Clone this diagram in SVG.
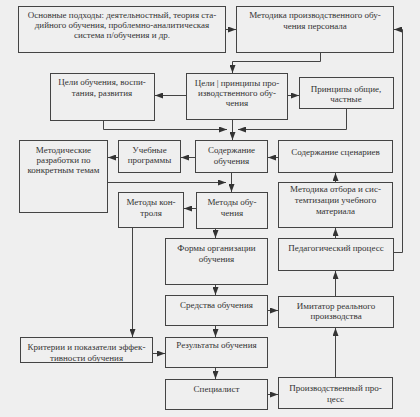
<svg xmlns="http://www.w3.org/2000/svg" width="420" height="417" viewBox="0 0 420 417">
<defs>
<marker id="ah" viewBox="0 0 8 6" refX="8" refY="3" markerWidth="8" markerHeight="6" markerUnits="userSpaceOnUse" orient="auto">
<path d="M0,0 L8,3 L0,6 Z" fill="#333"/>
</marker>
<style>
.b{fill:#efefef;stroke:#444;stroke-width:1}
.t{font-family:"Liberation Serif","Times New Roman",serif;font-size:9px;fill:#333;text-anchor:middle}
.c{fill:none;stroke:#444;stroke-width:1;marker-end:url(#ah)}
.l{fill:none;stroke:#444;stroke-width:1}
</style>
</defs>
<rect x="0" y="0" width="420" height="417" fill="#efefef"/>

<g id="n1"><rect class="b" x="18.5" y="6.5" width="207" height="46"/>
<text class="t" x="122" y="18">Основные подходы: деятельностный, теория ста-</text>
<text class="t" x="122" y="28">дийного обучения, проблемно-аналитическая</text>
<text class="t" x="122" y="38">система п/обучения и др.</text></g>

<g id="n2"><rect class="b" x="236.5" y="6.5" width="157" height="46"/>
<text class="t" x="315" y="18">Методика производственного обу-</text>
<text class="t" x="315" y="29">чения персонала</text></g>

<g id="n3"><rect class="b" x="50.5" y="73.5" width="104" height="47"/>
<text class="t" x="102" y="85">Цели обучения, воспи-</text>
<text class="t" x="102" y="96">тания, развития</text></g>

<g id="n4"><rect class="b" x="186.5" y="73.5" width="101" height="46"/>
<text class="t" x="237" y="86">Цели | принципы про-</text>
<text class="t" x="237" y="96">изводственного обу-</text>
<text class="t" x="237" y="106">чения</text></g>

<g id="n5"><rect class="b" x="299.5" y="77.5" width="94" height="31"/>
<text class="t" x="346" y="92">Принципы общие,</text>
<text class="t" x="346" y="102">частные</text></g>

<g id="n6"><rect class="b" x="19.5" y="140.5" width="88" height="72"/>
<text class="t" x="63.5" y="153">Методические</text>
<text class="t" x="63.5" y="163">разработки по</text>
<text class="t" x="63.5" y="173">конкретным темам</text></g>

<g id="n7"><rect class="b" x="118.5" y="140.5" width="62" height="32"/>
<text class="t" x="149.5" y="153">Учебные</text>
<text class="t" x="149.5" y="163">программы</text></g>

<g id="n8"><rect class="b" x="195.5" y="140.5" width="72" height="32"/>
<text class="t" x="231.5" y="153">Содержание</text>
<text class="t" x="231.5" y="164">обучения</text></g>

<g id="n9"><rect class="b" x="278.5" y="140.5" width="114" height="32"/>
<text class="t" x="335.5" y="155">Содержание сценариев</text></g>

<g id="n10"><rect class="b" x="278.5" y="182.5" width="114" height="45"/>
<text class="t" x="335.5" y="192">Методика отбора и сис-</text>
<text class="t" x="335.5" y="203">темтизации учебного</text>
<text class="t" x="335.5" y="214">материала</text></g>

<g id="n11"><rect class="b" x="118.5" y="192.5" width="65" height="35"/>
<text class="t" x="151" y="205">Методы кон-</text>
<text class="t" x="151" y="216">троля</text></g>

<g id="n12"><rect class="b" x="196.5" y="192.5" width="71" height="36"/>
<text class="t" x="232" y="205">Методы обу-</text>
<text class="t" x="232" y="216">чения</text></g>

<g id="n13"><rect class="b" x="165.5" y="238.5" width="102" height="46"/>
<text class="t" x="216.5" y="251">Формы организации</text>
<text class="t" x="216.5" y="262">обучения</text></g>

<g id="n14"><rect class="b" x="278.5" y="238.5" width="115" height="32"/>
<text class="t" x="336" y="251">Педагогический процесс</text></g>

<g id="n15"><rect class="b" x="165.5" y="295.5" width="102" height="30"/>
<text class="t" x="216.5" y="308">Средства обучения</text></g>

<g id="n16"><rect class="b" x="278.5" y="296.5" width="115" height="31"/>
<text class="t" x="336" y="309">Имитатор реального</text>
<text class="t" x="336" y="319">производства</text></g>

<g id="n17"><rect class="b" x="20.5" y="337.5" width="132" height="25"/>
<text class="t" x="86.5" y="350">Критерии и показатели эффек-</text>
<text class="t" x="86.5" y="361">тивности обучения</text></g>

<g id="n18"><rect class="b" x="165.5" y="337.5" width="102" height="30"/>
<text class="t" x="216.5" y="348">Результаты обучения</text></g>

<g id="n19"><rect class="b" x="165.5" y="379.5" width="102" height="30"/>
<text class="t" x="216.5" y="392">Специалист</text></g>

<g id="n20"><rect class="b" x="278.5" y="377.5" width="114" height="31"/>
<text class="t" x="335.5" y="391">Производственный про-</text>
<text class="t" x="335.5" y="402">цесс</text></g>

<g id="connectors">
<path class="c" d="M225.5,29.5 H236"/>
<path class="c" d="M320.5,52.5 V61.5 H232.5 V73"/>
<path class="c" d="M186.5,95.5 H155"/>
<path class="c" d="M287.5,95.5 H299"/>
<path class="c" d="M103.5,120.5 V129.5 H227"/>
<path class="c" d="M232.5,119.5 V140"/>
<path class="c" d="M346.5,108.5 V129.5 H238"/>
<path class="c" d="M195.5,157.5 H181"/>
<path class="c" d="M118.5,157.5 H108"/>
<path class="c" d="M278.5,157.5 H268"/>
<path class="c" d="M335.5,182.5 V173"/>
<path class="c" d="M231.5,172.5 V192"/>
<path class="c" d="M107.5,182.5 H226"/>
<path class="c" d="M196.5,208.5 H184"/>
<path class="c" d="M132.5,227.5 V337"/>
<path class="c" d="M215.5,228.5 V238"/>
<path class="c" d="M215.5,284.5 V295"/>
<path class="c" d="M267.5,310.5 H278"/>
<path class="c" d="M215.5,325.5 V337"/>
<path class="c" d="M152.5,353.5 H165"/>
<path class="c" d="M215.5,367.5 V379"/>
<path class="c" d="M267.5,394.5 H278"/>
<path class="c" d="M335.5,377.5 V328"/>
<path class="c" d="M335.5,296.5 V271"/>
<path class="c" d="M335.5,238.5 V228"/>
<path class="c" d="M393.5,252.5 H402.5 V29.5 H394"/>
</g>
</svg>
